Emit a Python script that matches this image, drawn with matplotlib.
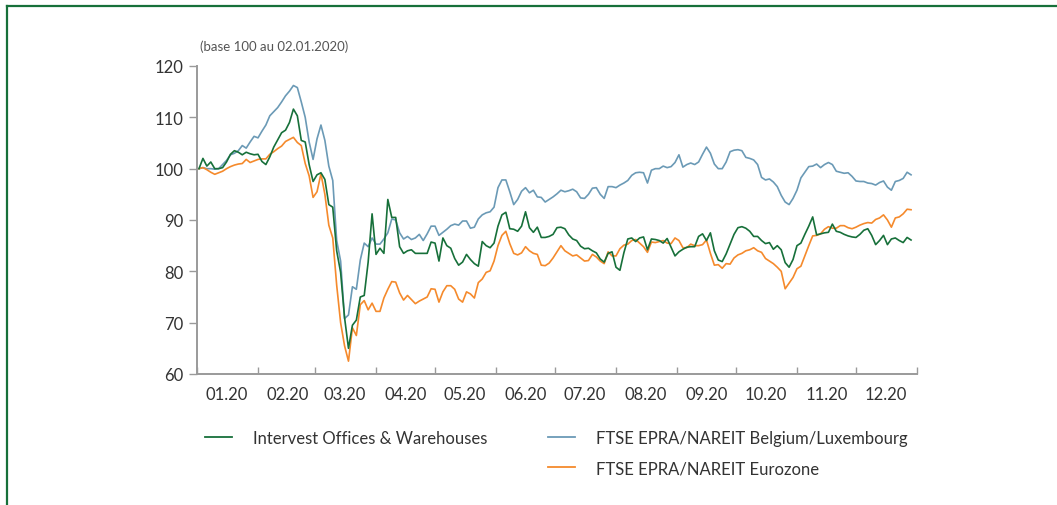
import numpy as np
import pandas as pd
import matplotlib
matplotlib.use("Agg")
import matplotlib.pyplot as plt
import matplotlib.dates as mdates
from matplotlib.lines import Line2D

## Data (index, base 100 at 02.01.2020), one reading every 2 calendar days

start_date = "2020-01-02"
step = "2D"

intervest = [
    100.0, 102.0, 100.5, 101.3, 100.0, 100.0, 100.2, 101.3, 102.8, 103.5,
    103.2, 102.7, 103.2, 102.9, 102.7, 102.8, 101.4, 100.8, 102.3, 104.2,
    105.6, 107.0, 107.5, 109.0, 111.6, 110.3, 105.5, 105.2, 100.8, 97.5,
    98.8, 99.2, 97.9, 93.0, 92.5, 84.0, 79.8, 71.0, 65.0, 69.5,
    70.5, 75.0, 75.3, 81.8, 91.2, 83.3, 84.5, 83.5, 94.0, 90.5,
    90.5, 84.8, 83.5, 84.0, 84.2, 83.5, 83.5, 83.5, 83.5, 85.7,
    85.5, 82.0, 86.5, 85.0, 84.5, 82.5, 81.2, 81.8, 83.3, 82.3,
    81.5, 81.0, 85.8, 85.0, 84.6, 85.5, 88.8, 91.0, 91.5, 88.3,
    88.2, 87.8, 88.8, 91.6, 88.5, 87.6, 88.6, 86.6, 86.6, 86.8,
    87.2, 88.5, 88.6, 88.3, 87.1, 86.3, 86.0, 84.9, 84.4, 84.5,
    84.0, 83.6, 82.4, 81.8, 83.5, 83.8, 80.8, 80.2, 83.6, 86.3,
    86.5, 85.8, 86.5, 86.7, 84.2, 86.3, 86.2, 86.0, 85.5, 86.4,
    84.7, 83.0, 83.8, 84.3, 84.7, 84.8, 84.8, 86.8, 87.3, 86.0,
    87.5, 84.0, 82.2, 81.9, 83.4, 85.3, 87.2, 88.5, 88.7, 88.4,
    87.8, 86.8, 86.8, 86.0, 85.4, 85.6, 84.3, 85.0, 84.2, 81.7,
    80.8, 82.3, 85.0, 85.5, 87.2, 88.8, 90.6, 87.1, 87.3, 87.5,
    87.6, 89.2, 87.8, 87.6, 87.2, 86.9, 86.7, 86.6, 87.2, 88.0,
    88.3, 87.0, 85.2, 86.0, 87.0, 85.2, 86.3, 86.5, 86.0, 85.6,
    86.6, 86.1,
]

belgium_lux = [
    100.0, 100.2, 100.0, 100.0, 99.9, 100.0, 100.8, 101.6, 102.7, 103.0,
    103.5, 104.5, 104.0, 105.2, 106.3, 106.0, 107.3, 108.5, 110.3, 111.1,
    111.9, 113.0, 114.2, 115.1, 116.2, 115.8, 113.0, 110.0, 105.2, 101.8,
    105.8, 108.5, 105.5, 100.5, 97.7, 86.0, 82.0, 70.8, 71.5, 77.0,
    76.5, 82.2, 85.5, 84.8, 86.5, 85.3, 85.3, 86.3, 87.5, 90.2,
    90.0, 87.5, 86.3, 86.8, 86.2, 86.5, 87.2, 86.0, 87.3, 88.8,
    88.8, 87.0, 87.6, 88.2, 88.9, 89.2, 89.0, 89.8, 89.8, 88.4,
    88.6, 90.2, 91.0, 91.4, 91.6, 92.5, 96.3, 97.8, 97.8, 95.5,
    93.0, 94.0, 95.6, 96.3, 95.3, 95.8, 94.5, 94.4, 93.5, 94.0,
    94.5, 95.1, 95.8, 95.5, 95.7, 96.0, 95.5, 94.3, 94.2, 95.0,
    96.2, 96.3, 95.0, 94.2, 96.5, 96.5, 96.3, 96.8, 97.2, 97.7,
    98.7, 99.2, 99.3, 99.2, 97.2, 99.7, 100.0, 100.0, 100.5, 100.2,
    100.4, 101.2, 102.7, 100.3, 100.8, 101.1, 100.8, 101.3, 102.8, 104.2,
    103.0, 100.9, 100.0, 100.0, 101.3, 103.3, 103.6, 103.7, 103.5, 102.2,
    102.0, 101.7, 100.8, 98.3, 97.8, 98.0, 97.4, 96.5, 94.8, 93.5,
    93.0, 94.2, 95.8, 98.2, 99.3, 100.4, 100.5, 100.9, 100.2, 100.8,
    101.2, 100.8, 99.5, 99.3, 99.1, 99.2, 98.5, 97.6, 97.5, 97.5,
    97.2, 97.1, 96.8, 97.3, 97.6, 96.4, 95.8, 97.5, 97.7, 98.1,
    99.3, 98.8,
]

eurozone = [
    100.0, 100.2, 99.8, 99.3, 98.9, 99.2, 99.5, 100.0, 100.4, 100.7,
    100.9, 101.0, 101.8, 101.2, 101.5, 101.8, 101.9, 101.9, 102.8, 103.3,
    103.9, 104.4, 105.3, 105.7, 106.1, 105.1, 104.5, 101.0, 98.6, 94.4,
    95.5, 99.0, 95.0, 89.0, 86.5, 77.3, 70.0, 65.5, 62.5, 69.0,
    67.5, 73.5, 74.3, 72.5, 73.8, 72.2, 72.2, 74.8, 76.5, 78.0,
    77.9, 75.8, 74.4, 75.3, 74.5, 73.7, 74.2, 74.6, 75.0, 76.6,
    76.5, 74.0, 76.0, 77.2, 77.2, 76.5, 74.6, 74.0, 76.0, 75.6,
    74.8, 77.8, 78.5, 79.8, 80.1, 82.0, 85.0, 87.0, 87.8, 85.4,
    83.5, 83.2, 83.6, 84.8, 84.0, 83.5, 83.3, 81.2, 81.1, 81.6,
    82.6, 83.8, 85.0, 84.0, 83.5, 83.0, 83.2, 82.6, 82.0, 82.1,
    83.3, 82.8, 82.0, 81.5, 83.8, 83.0, 83.0, 84.4, 85.1, 85.3,
    86.0, 86.2, 85.5, 84.8, 83.7, 85.7, 85.6, 85.8, 86.0, 85.5,
    85.4, 86.5, 86.0, 84.6, 84.6, 85.3, 85.0, 85.0, 85.2, 86.1,
    83.5, 81.2, 81.3, 80.6, 81.5, 81.4, 82.6, 83.2, 83.5, 84.0,
    84.2, 84.6, 84.0, 83.7, 82.5, 82.0, 81.5, 80.8, 80.0, 76.6,
    77.7, 78.8, 80.5, 81.0, 83.0, 85.0, 86.9, 87.0, 87.3, 88.2,
    88.7, 88.4, 88.4, 88.9, 88.9, 88.5, 88.3, 88.6, 89.0, 89.3,
    89.5, 89.4, 90.1, 90.4, 91.0, 90.0, 88.6, 90.4, 90.6, 91.2,
    92.1, 92.0,
]

labels = [
    "Intervest Offices & Warehouses",
    "FTSE EPRA/NAREIT Belgium/Luxembourg",
    "FTSE EPRA/NAREIT Eurozone",
]

dates = pd.date_range(start_date, periods=len(intervest), freq=step)

# colours
GREEN = "#17703a"
BLUE = "#6b9ab6"
ORANGE = "#f58a2c"
AXIS = "#9a9a9a"
TEXT = "#333333"

plt.rcParams["font.family"] = ["Lato", "DejaVu Sans"]

fig = plt.figure(figsize=(10.57, 5.06), dpi=100)
ax = fig.add_axes([0.1864, 0.2589, 0.6811, 0.6087])

ax.plot(dates, belgium_lux, color=BLUE, lw=1.2)
ax.plot(dates, eurozone, color=ORANGE, lw=1.2)
ax.plot(dates, intervest, color=GREEN, lw=1.2)

# axes formatting
ax.set_xlim(pd.Timestamp("2020-01-01"), pd.Timestamp("2021-01-01"))
ax.set_ylim(60, 120)
ax.set_yticks(np.arange(60, 121, 10))

ax.xaxis.set_major_locator(mdates.MonthLocator())
ax.xaxis.set_major_formatter(plt.NullFormatter())
ax.xaxis.set_minor_locator(mdates.MonthLocator(bymonthday=16))
ax.xaxis.set_minor_formatter(mdates.DateFormatter("%m.%y"))

for s in ["top", "right"]:
    ax.spines[s].set_visible(False)
for s in ["left", "bottom"]:
    ax.spines[s].set_color(AXIS)
    ax.spines[s].set_linewidth(1.4)

ax.tick_params(axis="y", direction="out", length=6, width=1, color=AXIS,
               labelsize=12, labelcolor=TEXT, pad=4)
ax.tick_params(axis="x", which="major", direction="in", length=5, width=1,
               color=AXIS)
ax.tick_params(axis="x", which="minor", length=0, labelsize=12,
               labelcolor=TEXT, pad=9)

fig.text(0.1892, 0.907, "(base 100 au 02.01.2020)", fontsize=9.5,
         color="#555555", ha="left", va="center")

# legend, laid out as in the report
h_green = Line2D([], [], color=GREEN, lw=1.3)
h_blue = Line2D([], [], color=BLUE, lw=1.3)
h_orange = Line2D([], [], color=ORANGE, lw=1.3)

leg_kw = dict(frameon=False, fontsize=12, handlelength=1.6,
              handletextpad=1.25, labelspacing=0.85, borderpad=0,
              borderaxespad=0, labelcolor=TEXT)
fig.legend([h_green], labels[:1], loc="upper left",
           bbox_to_anchor=(0.194, 0.148), **leg_kw)
fig.legend([h_blue, h_orange], labels[1:], loc="upper left",
           bbox_to_anchor=(0.5185, 0.148), **leg_kw)

# green frame at top and left
fig.add_artist(Line2D([0.0066, 1.0], [0.986, 0.986], color=GREEN, lw=1.6,
                      transform=fig.transFigure))
fig.add_artist(Line2D([0.0066, 0.0066], [0.0, 0.986], color=GREEN, lw=1.6,
                      transform=fig.transFigure))

fig.savefig("out.png", dpi=100)
